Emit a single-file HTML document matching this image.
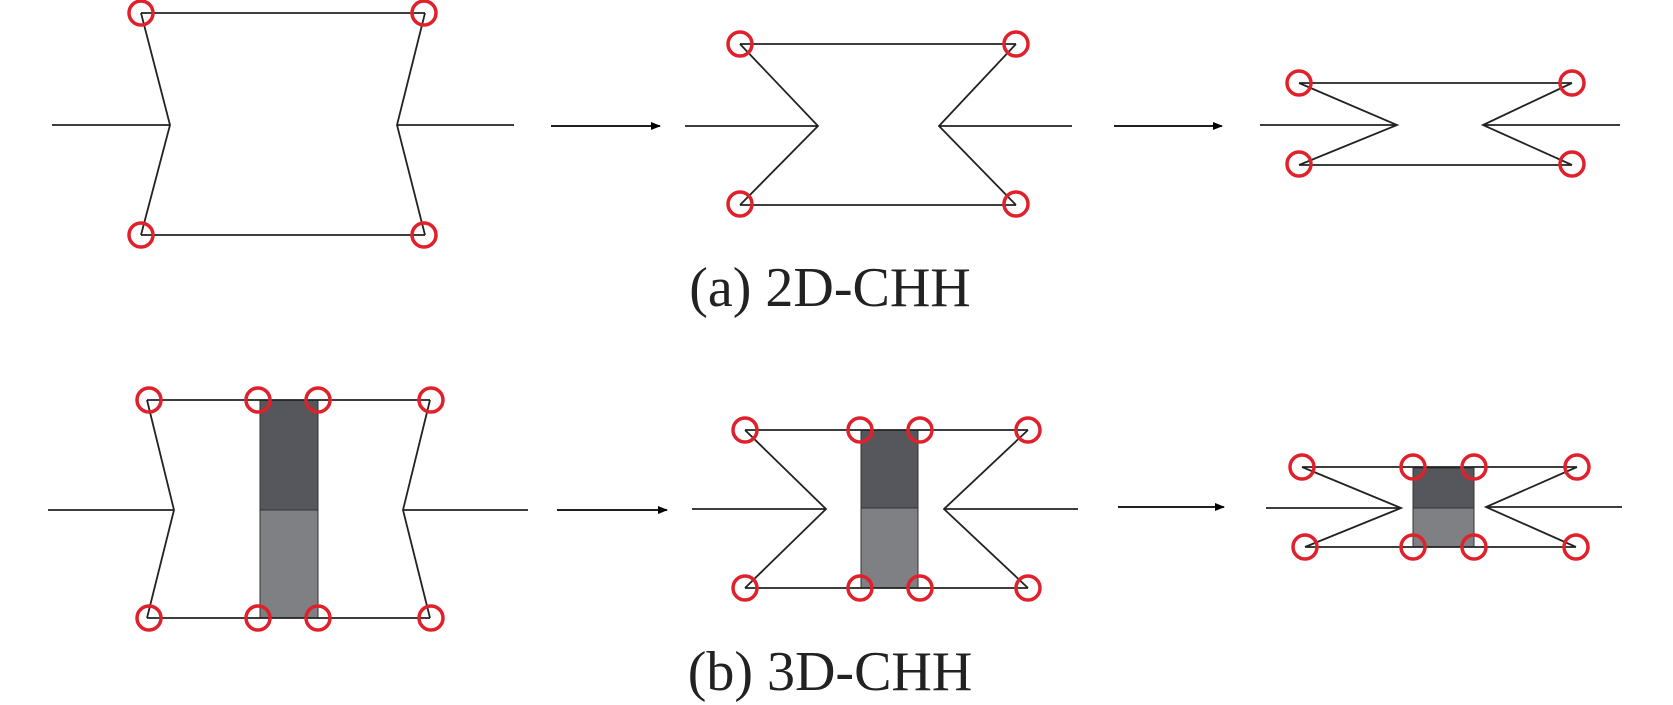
<!DOCTYPE html>
<html><head><style>html,body{margin:0;padding:0;background:#fff}svg{display:block}</style></head>
<body>
<svg width="1673" height="705" viewBox="0 0 1673 705" xmlns="http://www.w3.org/2000/svg">
<defs><marker id="ar" markerWidth="10" markerHeight="8" refX="9" refY="4" orient="auto" markerUnits="userSpaceOnUse"><path d="M0,0 L10,4 L0,8 Z" fill="#000"/></marker></defs>
<g stroke="#222" stroke-width="1.8" fill="none">
<path d="M52,125 H170 M141,13 H425 M141,235 H425 M141,13 L170,125 L141,235 M425,13 L397,125 L425,235 M397,125 H514"/>
<path d="M685,126 H818 M740,44 H1016 M740,205 H1016 M740,44 L818,126 L740,205 M1016,44 L939,126 L1016,205 M939,126 H1072"/>
<path d="M1260,125 H1397 M1299,83 H1572 M1299,165 H1572 M1299,83 L1397,125 L1299,165 M1572,83 L1483,125 L1572,165 M1483,125 H1620"/>
</g>
<g stroke="#000" stroke-width="1.8">
<line x1="551" y1="126" x2="660" y2="126" marker-end="url(#ar)"/>
<line x1="1114" y1="126" x2="1222" y2="126" marker-end="url(#ar)"/>
<line x1="557" y1="510" x2="667" y2="510" marker-end="url(#ar)"/>
<line x1="1118" y1="507" x2="1224" y2="507" marker-end="url(#ar)"/>
</g>
<rect x="260" y="400" width="58" height="110" fill="#55575c" stroke="#333"/>
<rect x="260" y="510" width="58" height="108" fill="#7f8084" stroke="#333"/>
<rect x="861" y="430" width="57" height="78" fill="#55575c" stroke="#333"/>
<rect x="861" y="508" width="57" height="80" fill="#7f8084" stroke="#333"/>
<rect x="1413" y="468" width="61" height="40" fill="#55575c" stroke="#333"/>
<rect x="1413" y="508" width="61" height="39" fill="#7f8084" stroke="#333"/>
<g stroke="#222" stroke-width="1.8" fill="none">
<path d="M48,510 H174 M147,400 H430 M147,618 H430 M147,400 L174,510 L147,618 M430,400 L403,510 L430,618 M403,510 H528"/>
<path d="M692,509 H826 M745,430 H1028 M745,588 H1028 M745,430 L826,509 L745,588 M1028,430 L944,509 L1028,588 M944,509 H1078"/>
<path d="M1266,508 H1401 M1302,467 H1577 M1305,547 H1576 M1302,467 L1401,508 L1305,547 M1577,467 L1486,507 L1576,547 M1486,507 H1622"/>
</g>
<g stroke="#e0202a" stroke-width="3.5" fill="none">
<circle cx="141" cy="13" r="12"/><circle cx="424" cy="13" r="12"/><circle cx="141" cy="235" r="12"/><circle cx="424" cy="235" r="12"/>
<circle cx="740" cy="44" r="12"/><circle cx="1016" cy="44" r="12"/><circle cx="740" cy="204" r="12"/><circle cx="1016" cy="204" r="12"/>
<circle cx="1299" cy="83" r="12"/><circle cx="1572" cy="83" r="12"/><circle cx="1299" cy="164" r="12"/><circle cx="1572" cy="164" r="12"/>
<circle cx="149" cy="400" r="12"/><circle cx="258" cy="400" r="12"/><circle cx="318" cy="400" r="12"/><circle cx="431" cy="400" r="12"/>
<circle cx="149" cy="618" r="12"/><circle cx="258" cy="618" r="12"/><circle cx="318" cy="618" r="12"/><circle cx="431" cy="618" r="12"/>
<circle cx="745" cy="430" r="12"/><circle cx="860" cy="430" r="12"/><circle cx="920" cy="430" r="12"/><circle cx="1028" cy="430" r="12"/>
<circle cx="745" cy="588" r="12"/><circle cx="860" cy="588" r="12"/><circle cx="920" cy="588" r="12"/><circle cx="1028" cy="588" r="12"/>
<circle cx="1302" cy="467" r="12"/><circle cx="1413" cy="467" r="12"/><circle cx="1474" cy="467" r="12"/><circle cx="1577" cy="467" r="12"/>
<circle cx="1305" cy="547" r="12"/><circle cx="1413" cy="547" r="12"/><circle cx="1474" cy="547" r="12"/><circle cx="1576" cy="547" r="12"/>
</g>
<text x="830" y="306" font-family="Liberation Serif, serif" font-size="56" text-anchor="middle" fill="#222">(a) 2D-CHH</text>
<text x="830" y="690" font-family="Liberation Serif, serif" font-size="56" text-anchor="middle" fill="#222">(b) 3D-CHH</text>
</svg>
</body></html>
